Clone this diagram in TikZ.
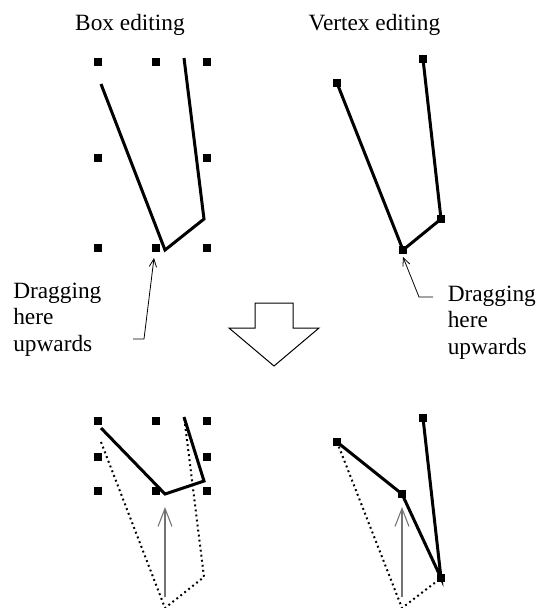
\documentclass[tikz,border=0pt]{standalone}
\usepackage{fontspec}
\setmainfont{Liberation Serif}
\usetikzlibrary{arrows.meta}
\begin{document}
\begin{tikzpicture}[x=0.75pt,y=-0.75pt,
  handle/.style={fill=black,inner sep=0pt,minimum size=6pt,draw=none},
  poly/.style={line width=2.25pt},
  ghost/.style={line width=1.5pt,dash pattern=on 1.4pt off 2.4pt},
  pointer/.style={line width=0.6pt,-{Straight Barb[length=6pt,width=5.5pt]}},
  drag/.style={line width=0.8pt,black!55,-{Straight Barb[length=13.5pt,width=10.5pt]}},
  lbl/.style={font=\fontsize{17.5}{19.8}\selectfont,inner sep=0pt,align=left},
  bigarrow/.style={line width=0.75pt}]
\useasboundingbox (0,0) rectangle (540,608);

% titles
\node[lbl,anchor=base] (t1) at (130,30) {Box editing};
\node[lbl,anchor=base] (t2) at (374.5,30) {Vertex editing};

% ---- top left: box editing
\foreach \n/\x/\y in {a/98/62,b/156/62,c/207/62,d/98/158,e/207/158,f/98/248,g/156/248,h/207/248}
  \node[handle] (th\n) at (\x,\y) {};
\coordinate (tl1) at (101,84);
\coordinate (tl2) at (165,250);
\coordinate (tl3) at (204,219);
\coordinate (tl4) at (184,58);
\draw[poly] (tl1) -- (tl2) -- (tl3) -- (tl4);

% ---- top right: vertex editing
\node[handle] (tr1) at (337,83) {};
\node[handle] (tr2) at (403,250) {};
\node[handle] (tr3) at (441,219) {};
\node[handle] (tr4) at (423,59) {};
\draw[poly] (tr1.center) -- (tr2.center) -- (tr3.center) -- (tr4.center);

% ---- labels and pointers
\node[lbl,anchor=base west] (ll) at (13,351) {Dragging\\here\\upwards};
\coordinate (pl0) at (133,339);
\coordinate (pl1) at (144,339);
\coordinate (plt) at (154,258);
\draw[pointer] (pl0) -- (pl1) -- (plt);

\node[lbl,anchor=base west] (rl) at (447.5,354) {Dragging\\here\\upwards};
\coordinate (pr0) at (433,297);
\coordinate (pr1) at (419,297);
\coordinate (prt) at (403,257);
\draw[pointer] (pr0) -- (pr1) -- (prt);

% ---- big arrow
\draw[bigarrow] (255,303) -- (293,303) -- (293,328) -- (319,328) -- (274,366)
  -- (229,328) -- (255,328) -- cycle;

% ---- bottom left: box editing result
\foreach \n/\x/\y in {a/98/421,b/156/421,c/207/421,d/98/457,e/207/457,f/98/491,g/156/491,h/207/491}
  \node[handle] (bh\n) at (\x,\y) {};
\coordinate (bo1) at (101,442);
\coordinate (bo2) at (165,608);
\coordinate (bo3) at (204,577);
\coordinate (bo4) at (184,416);
\draw[ghost] (bo1) -- (bo2) -- (bo3) -- (bo4);
\coordinate (bl1) at (101,428);
\coordinate (bl2) at (165,494);
\coordinate (bl3) at (204,481);
\coordinate (bl4) at (184,417);
\draw[poly] (bl1) -- (bl2) -- (bl3) -- (bl4);
\coordinate (dl0) at (165,597);
\coordinate (dl1) at (165,507);
\draw[drag] (dl0) -- (dl1);

% ---- bottom right: vertex editing result
\node[handle] (br1) at (337,442) {};
\node[handle] (br2) at (402,494) {};
\node[handle] (br3) at (441,578) {};
\node[handle] (br4) at (423,418) {};
\coordinate (bro) at (402,608);
\draw[ghost] (br1.center) -- (bro) -- (br3.center);
\draw[poly] (br1.center) -- (br2.center) -- (br3.center) -- (br4.center);
\coordinate (dr0) at (402,597);
\coordinate (dr1) at (402,507);
\draw[drag] (dr0) -- (dr1);
\end{tikzpicture}
\end{document}
